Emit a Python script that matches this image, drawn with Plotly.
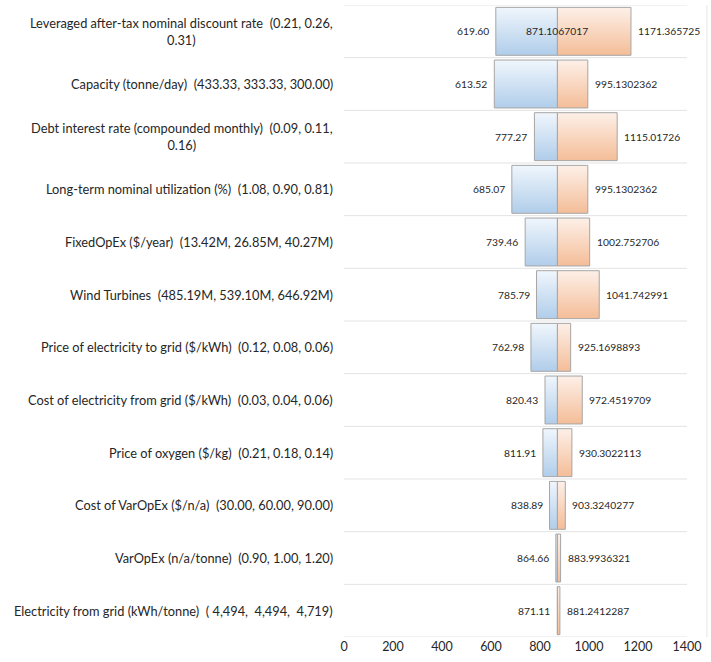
import plotly.graph_objects as go

categories = [
    "Leveraged after-tax nominal discount rate  (0.21, 0.26,<br>0.31)",
    "Capacity (tonne/day)  (433.33, 333.33, 300.00)",
    "Debt interest rate (compounded monthly)  (0.09, 0.11,<br>0.16)",
    "Long-term nominal utilization (%)  (1.08, 0.90, 0.81)",
    "FixedOpEx ($/year)  (13.42M, 26.85M, 40.27M)",
    "Wind Turbines  (485.19M, 539.10M, 646.92M)",
    "Price of electricity to grid ($/kWh)  (0.12, 0.08, 0.06)",
    "Cost of electricity from grid ($/kWh)  (0.03, 0.04, 0.06)",
    "Price of oxygen ($/kg)  (0.21, 0.18, 0.14)",
    "Cost of VarOpEx ($/n/a)  (30.00, 60.00, 90.00)",
    "VarOpEx (n/a/tonne)  (0.90, 1.00, 1.20)",
    "Electricity from grid (kWh/tonne)  ( 4,494,  4,494,  4,719)",
]
base_value = 871.1067017
low_values = [619.60, 613.52, 777.27, 685.07, 739.46, 785.79, 762.98,
              820.43, 811.91, 838.89, 864.66, 871.11]
high_values = [1171.365725, 995.1302362, 1115.01726, 995.1302362, 1002.752706,
               1041.742991, 925.1698893, 972.4519709, 930.3022113, 903.3240277,
               883.9936321, 881.2412287]
low_labels = ["619.60", "613.52", "777.27", "685.07", "739.46", "785.79", "762.98",
              "820.43", "811.91", "838.89", "864.66", "871.11"]
high_labels = ["1171.365725", "995.1302362", "1115.01726", "995.1302362", "1002.752706",
               "1041.742991", "925.1698893", "972.4519709", "930.3022113", "903.3240277",
               "883.9936321", "881.2412287"]
x_ticks = [0, 200, 400, 600, 800, 1000, 1200, 1400]

FONT = "Lato"
TXT = "#262626"
n = len(categories)
half = 0.455

fig = go.Figure()

def add_box(x0, x1, yc, dark, light):
    fig.add_trace(go.Scatter(
        x=[x0, x1, x1, x0, x0],
        y=[yc - half, yc - half, yc + half, yc + half, yc - half],
        mode="lines", fill="toself",
        line=dict(color="#a6a6a6", width=1),
        fillgradient=dict(type="vertical", colorscale=[[0, dark], [1, light]]),
        hoverinfo="skip", showlegend=False,
    ))

for i in range(n):
    yc = n - 1 - i
    add_box(low_values[i], base_value, yc, "#b0cdea", "#f0f6fc")
    add_box(base_value, high_values[i], yc, "#f4bd98", "#fdf0e8")

annotations = []
for i in range(n):
    yc = n - 1 - i
    annotations.append(dict(x=low_values[i], y=yc, text=low_labels[i], showarrow=False,
                            xanchor="right", yanchor="middle", xshift=-5,
                            font=dict(family=FONT, size=10.3, color=TXT)))
    annotations.append(dict(x=high_values[i], y=yc, text=high_labels[i], showarrow=False,
                            xanchor="left", yanchor="middle", xshift=5,
                            font=dict(family=FONT, size=10.3, color=TXT)))
    annotations.append(dict(x=0, xref="paper", y=yc, text=categories[i], showarrow=False,
                            xanchor="right", yanchor="middle", xshift=-9, align="center",
                            font=dict(family=FONT, size=12.8, color=TXT)))
annotations.append(dict(x=base_value, y=n - 1, text="871.1067017", showarrow=False,
                        xanchor="center", yanchor="middle",
                        font=dict(family=FONT, size=10.3, color=TXT)))

shapes = []
for k in range(n + 1):
    shapes.append(dict(type="line", xref="paper", x0=0, x1=1, y0=k - 0.5, y1=k - 0.5,
                       line=dict(color="#e3e3e3", width=1), layer="below"))
shapes.append(dict(type="line", xref="paper", yref="paper", x0=1.058, x1=1.058, y0=0, y1=1,
                   line=dict(color="#e6e6e6", width=1)))

fig.update_layout(
    width=711, height=662,
    margin=dict(l=344, r=24, t=5, b=25),
    paper_bgcolor="white", plot_bgcolor="white",
    annotations=annotations, shapes=shapes,
    font=dict(family=FONT, color=TXT),
    xaxis=dict(range=[0, 1400], tickvals=x_ticks, showgrid=False, zeroline=False,
               showline=False, ticks="", tickfont=dict(family=FONT, size=12.5, color=TXT)),
    yaxis=dict(range=[-0.5, n - 0.5], showticklabels=False, showgrid=False,
               zeroline=False, showline=False, ticks=""),
)

fig.write_html("out.html")
